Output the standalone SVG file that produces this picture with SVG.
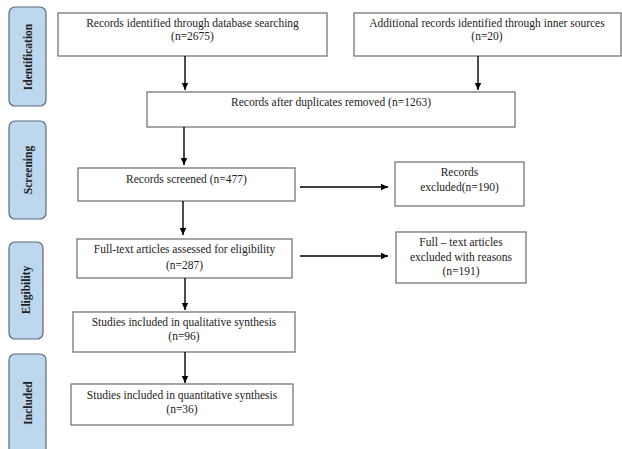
<svg xmlns="http://www.w3.org/2000/svg" width="622" height="449" viewBox="0 0 622 449">
<defs>
<style>
.box{fill:#fff;stroke:#6b6b6b;stroke-width:1.2}
.side{fill:#bdd7ee;stroke:#5a6b7a;stroke-width:1.2}
.t{font-family:"Liberation Serif","Times New Roman",serif;font-size:11.5px;fill:#222;text-anchor:middle}
.s{font-family:"Liberation Serif","Times New Roman",serif;font-size:11.5px;font-weight:bold;fill:#222;text-anchor:middle}
.c{stroke:#000;stroke-width:1.4;fill:none;marker-end:url(#ah)}
</style>
<marker id="ah" markerWidth="8" markerHeight="8" refX="7" refY="4" orient="auto" markerUnits="userSpaceOnUse">
<path d="M0,0.8 L7,4 L0,7.2 Z" fill="#000"/>
</marker>
</defs>
<rect width="622" height="449" fill="#fff"/>
<g id="stage-identification">
<rect class="side" x="9" y="7" width="37" height="99" rx="6"/>
<text class="s" transform="translate(31.5,57) rotate(-90)">Identification</text>
</g>
<g id="stage-screening">
<rect class="side" x="9" y="121" width="37" height="98" rx="6"/>
<text class="s" transform="translate(31.5,170) rotate(-90)">Screening</text>
</g>
<g id="stage-eligibility">
<rect class="side" x="9" y="242" width="34" height="97" rx="6"/>
<text class="s" transform="translate(30,290) rotate(-90)">Eligibility</text>
</g>
<g id="stage-included">
<rect class="side" x="9" y="354" width="37" height="110" rx="6"/>
<text class="s" transform="translate(31.5,403) rotate(-90)">Included</text>
</g>
<g id="n-db">
<rect class="box" x="58" y="13" width="269" height="43"/>
<text class="t" x="192.5" y="27">Records identified through database searching</text>
<text class="t" x="192.5" y="40">(n=2675)</text>
</g>
<g id="n-inner">
<rect class="box" x="354" y="13" width="267" height="43"/>
<text class="t" x="487" y="27">Additional records identified through inner sources</text>
<text class="t" x="487" y="40">(n=20)</text>
</g>
<g id="n-dup">
<rect class="box" x="147" y="92" width="368" height="35"/>
<text class="t" x="331" y="106">Records after duplicates removed (n=1263)</text>
</g>
<g id="n-screened">
<rect class="box" x="78" y="168" width="217" height="33"/>
<text class="t" x="186.5" y="183">Records screened (n=477)</text>
</g>
<g id="n-excl1">
<rect class="box" x="395" y="162" width="129" height="44"/>
<text class="t" x="459.5" y="176">Records</text>
<text class="t" x="459.5" y="191">excluded(n=190)</text>
</g>
<g id="n-fulltext">
<rect class="box" x="77" y="239" width="215" height="39"/>
<text class="t" x="184.5" y="253">Full-text articles assessed for eligibility</text>
<text class="t" x="184.5" y="269">(n=287)</text>
</g>
<g id="n-excl2">
<rect class="box" x="396" y="232" width="130" height="51"/>
<text class="t" x="461" y="246">Full – text articles</text>
<text class="t" x="461" y="261">excluded with reasons</text>
<text class="t" x="461" y="275">(n=191)</text>
</g>
<g id="n-qual">
<rect class="box" x="73" y="312" width="222" height="40"/>
<text class="t" x="184" y="326">Studies included in qualitative synthesis</text>
<text class="t" x="184" y="340">(n=96)</text>
</g>
<g id="n-quant">
<rect class="box" x="71" y="384" width="222" height="41"/>
<text class="t" x="182" y="399">Studies included in quantitative synthesis</text>
<text class="t" x="182" y="413">(n=36)</text>
</g>
<g id="connectors">
<line class="c" x1="185" y1="56" x2="185" y2="90"/>
<line class="c" x1="478" y1="56" x2="478" y2="90"/>
<line class="c" x1="184" y1="127" x2="184" y2="165"/>
<line class="c" x1="300" y1="187" x2="388" y2="187"/>
<line class="c" x1="183" y1="201" x2="183" y2="235"/>
<line class="c" x1="300" y1="256" x2="388" y2="256"/>
<line class="c" x1="185" y1="278" x2="185" y2="310"/>
<line class="c" x1="185" y1="352" x2="185" y2="383"/>
</g>
</svg>
